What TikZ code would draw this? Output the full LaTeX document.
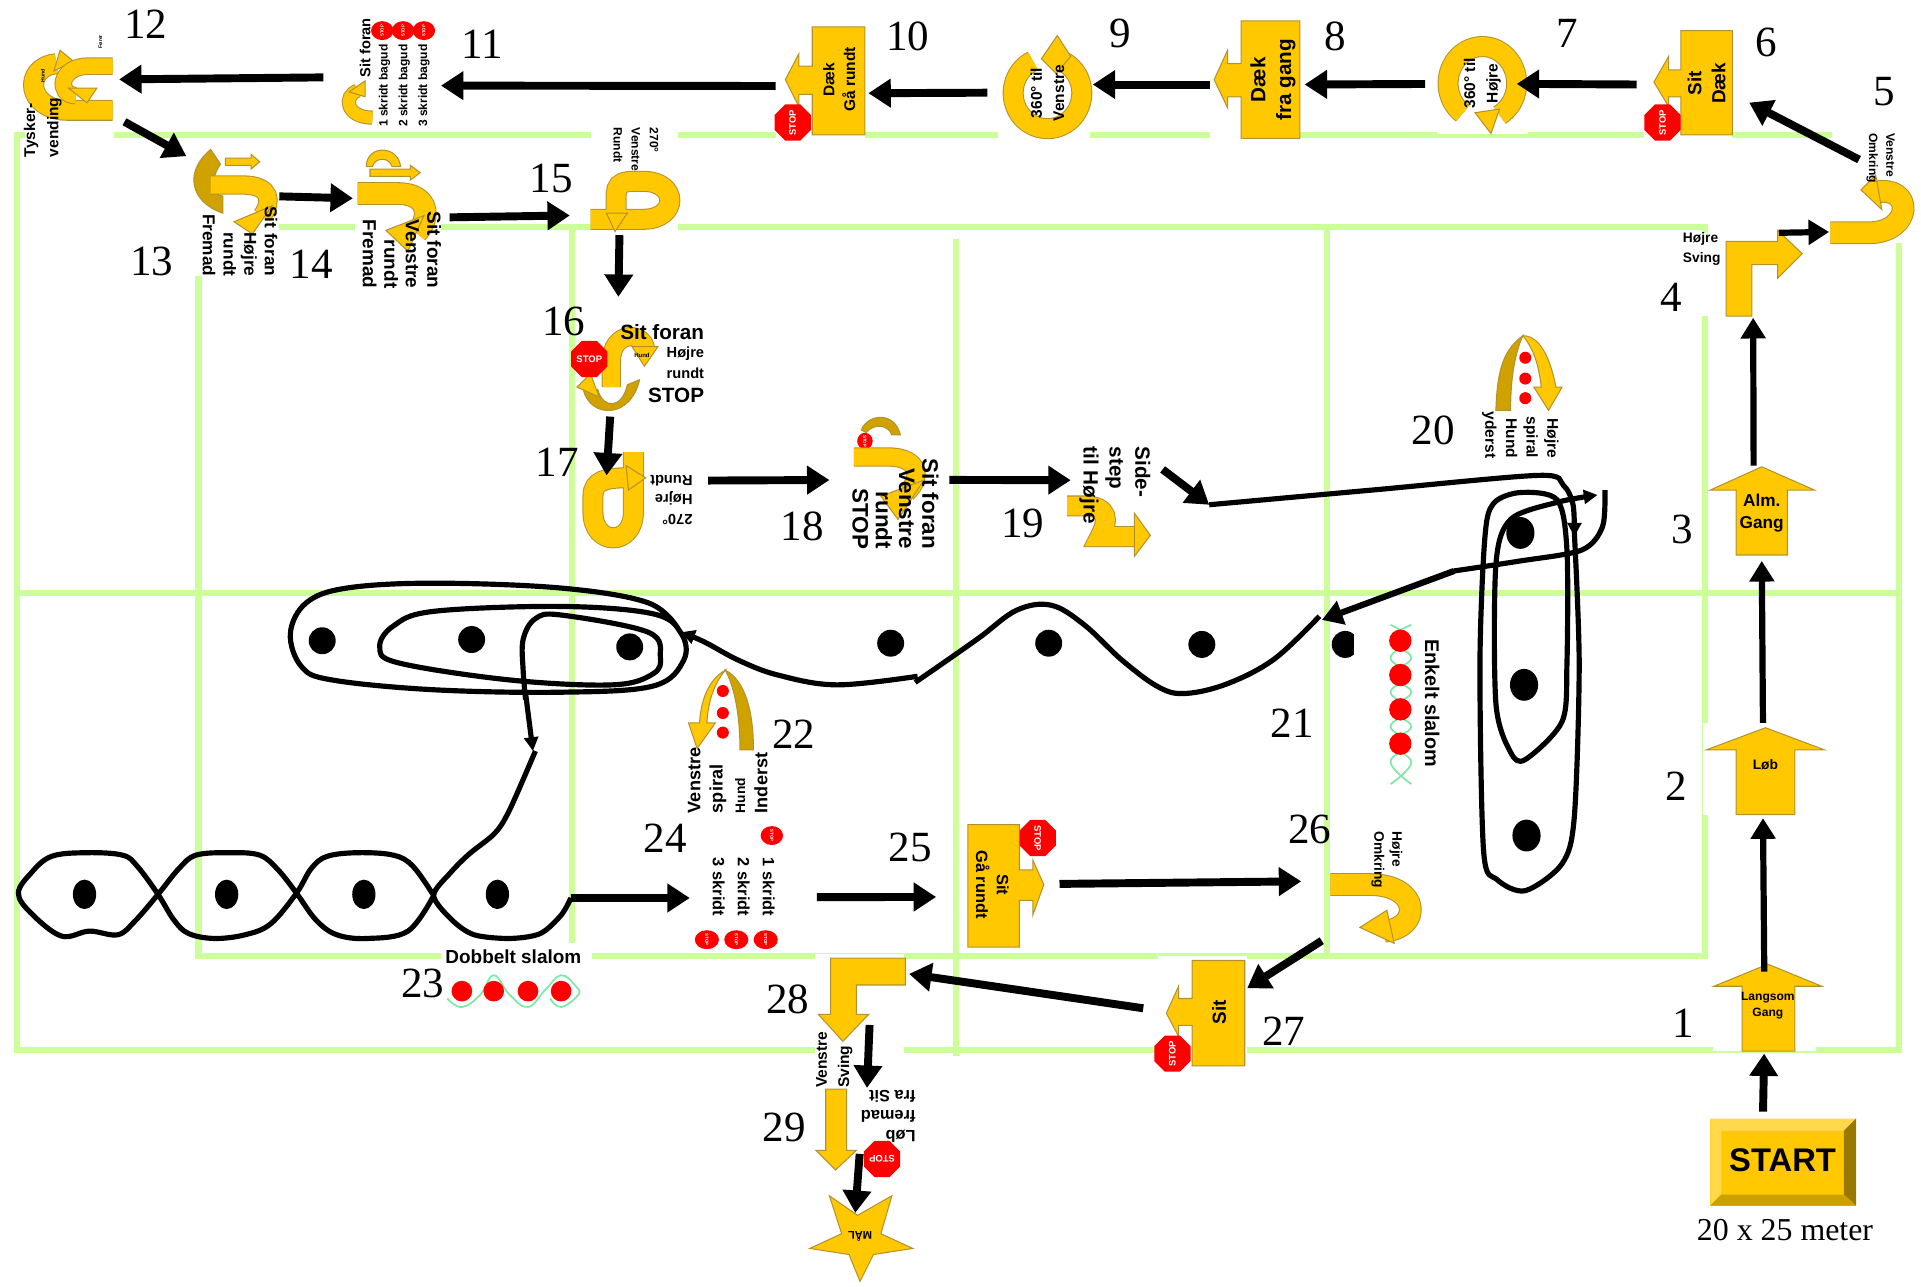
\documentclass[tikz,border=0pt]{standalone}
\usepackage{fontspec}
\setmainfont{Liberation Serif}
\setsansfont{Liberation Sans}
\usetikzlibrary{arrows.meta,shapes.geometric,fit}
\definecolor{guld}{HTML}{FFC800}
\definecolor{brun}{HTML}{B3922E}
\definecolor{morkguld}{HTML}{CFA200}
\definecolor{bane}{HTML}{CCFF99}
\definecolor{slalom}{HTML}{80E8A5}
\tikzset{
  gitter/.style={bane, line width=3.6pt},
  felt/.style={fill=white, inner sep=0pt, outer sep=0pt},
  gul/.style={fill=guld, draw=brun, line width=.6pt},
  mork/.style={fill=morkguld, draw=brun, line width=.6pt},
  baand/.style={draw=brun, double=guld, double distance=#1, line width=.6pt},
  tekst/.style 2 args={font=\sffamily\bfseries\fontsize{#1}{#2}\selectfont, inner sep=0pt},
  nr/.style={font=\fontsize{25}{25}\selectfont, inner sep=0pt},
  stopskilt/.style={regular polygon, regular polygon sides=8, fill=red, text=white, inner sep=0pt,
    minimum size=#1, font=\sffamily\bfseries\fontsize{5.5}{6}\selectfont},
  ministop/.style={ellipse, fill=red, text=white, inner sep=0pt, minimum width=11pt, minimum height=13pt,
    font=\sffamily\bfseries\fontsize{2.5}{3}\selectfont},
  pil/.style={-{Triangle[length=13pt,width=16pt]}, line width=4.6pt},
  pilt/.style={-{Triangle[length=12pt,width=14pt]}, line width=3.6pt},
  spor/.style={line width=3pt, line join=round},
  lille/.style={-{Triangle[length=8pt,width=8pt]}},
}
\begin{document}
\begin{tikzpicture}[x=0.025cm, y=-0.025cm]
    \useasboundingbox (0,0) rectangle (1568,1050.5);

    % Bane
    \draw[gitter] (14,110) rectangle (1550,857);
    \draw[gitter] (162,185) rectangle (1392,780);
    \draw[gitter] (14,484) -- (1550,484);
    \draw[gitter] (467,185) -- (467,780);
    \draw[gitter] (780,195) -- (780,862);
    \draw[gitter] (1083,185) -- (1083,780);

    % Kegler
    \fill (1098,526) ellipse (11 and 11);

    % Felter
    \node[felt, fit={(1398,785) (1482,858)}] (s1) {};
    \node[felt, fit={(1390,590) (1488,665)}] (s2) {};
    \node[felt, fit={(1395,380) (1481,455)}] (s3) {};
    \node[felt, fit={(1372,190) (1490,258)}] (s4) {};
    \node[felt, fit={(1495,105) (1568,198)}] (s5) {};
    \node[felt, fit={(1342,25) (1414,113)}] (s6) {};
    \node[felt, fit={(1173,28) (1247,109)}] (s7) {};
    \node[felt, fit={(988,25) (1060,113)}] (s8) {};
    \node[felt, fit={(815,25) (890,113)}] (s9) {};
    \node[felt, fit={(633,21) (706,113)}] (s10) {};
    \node[felt, fit={(280,18) (358,108)}] (s11) {};
    \node[felt, fit={(20,22) (93,130)}] (s12) {};
    \node[felt, fit={(157,120) (228,225)}] (s13) {};
    \node[felt, fit={(290,120) (360,235)}] (s14) {};
    \node[felt, fit={(482,95) (553,190)}] (s15) {};
    \node[felt, fit={(470,262) (576,335)}] (s16) {};
    \node[felt, fit={(475,365) (570,445)}] (s17) {};
    \node[felt, fit={(695,340) (770,450)}] (s18) {};
    \node[felt, fit={(870,360) (940,458)}] (s19) {};
    \node[felt, fit={(1205,270) (1275,375)}] (s20) {};
    \node[felt, fit={(1105,505) (1180,645)}] (s21) {};
    \node[felt, fit={(555,540) (632,665)}] (s22) {};
    \node[felt, fit={(360,770) (483,848)}] (s23) {};
    \node[felt, fit={(565,672) (640,778)}] (s24) {};
    \node[felt, fit={(788,668) (862,775)}] (s25) {};
    \node[felt, fit={(1086,675) (1160,775)}] (s26) {};
    \node[felt, fit={(945,780) (1018,872)}] (s27) {};
    \node[felt, fit={(665,779) (738,888)}] (s28) {};
    \node[felt, fit={(660,888) (750,965)}] (s29) {};
    \node[felt, fit={(655,975) (750,1050)}] (s30) {};
    \node[felt, fit={(1396,913) (1515,984)}] (start) {};

    % Start
    \fill[guld] (1396,913) rectangle (1515,984);
    \fill[guld!70!white] (1396,913) -- (1515,913) -- (1505,923) -- (1405,923) -- (1405,975) -- (1396,984) -- cycle;
    \fill[black!40!guld] (1515,913) -- (1515,984) -- (1505,975) -- (1505,923) -- cycle;
    \fill[black!20!guld] (1396,984) -- (1515,984) -- (1505,975) -- (1405,975) -- cycle;
    \node[tekst={19}{21}] (tstart) at (1455,947) {START};
    \node[font=\fontsize{18.5}{20}\selectfont, inner sep=0pt] (tmeter) at (1457,1004) {20 x 25 meter};

    % 1-5
    \draw[gul] (1443,787) -- (1487,805) -- (1465,805) -- (1465,858) -- (1422,858) -- (1422,805) -- (1399,805) -- cycle;
    \node[tekst={7}{9}, align=center] (t1) at (1443,821) {Langsom\\Gang};
    \draw[gul] (1441,594) -- (1489,612) -- (1465,612) -- (1465,665) -- (1417,665) -- (1417,612) -- (1393,612) -- cycle;
    \node[tekst={8}{9}] (t2) at (1441,624) {Løb};
    \draw[gul] (1438,381) -- (1481,400) -- (1459,400) -- (1459,453) -- (1417,453) -- (1417,400) -- (1396,400) -- cycle;
    \node[tekst={10}{12.5}, align=center] (t3) at (1438,419) {Alm.\\Gang};
    \draw[gul] (1409,258) -- (1409,197) -- (1451,197) -- (1451,188) -- (1471,207) -- (1451,227) -- (1451,216) -- (1430,216) -- (1430,258) -- cycle;
    \node[tekst={8}{11.5}, align=left] (t4) at (1389,203) {Højre\\Sving};
    \draw[baand=12pt] (1494,190) -- (1525,190) .. controls (1562,190) and (1562,150) .. (1530,157);
    \draw[gul] (1519,155) -- (1531,143) -- (1536,171) -- cycle;
    \node[tekst={7}{10}, rotate=-90, align=left] (t5) at (1535,129) {Venstre\\Omkring};

    % 6-10
    \draw[gul] (1372,25) -- (1414,25) -- (1414,110) -- (1372,110) -- (1372,79) -- (1362,79) -- (1362,87) -- (1350,67) -- (1362,46) -- (1362,57) -- (1372,57) -- cycle;
    \node[stopskilt=19pt, rotate=90] (st6) at (1357,100) {STOP};
    \node[tekst={11}{14}, rotate=90, align=center] (t6) at (1393,68) {Sit\\Dæk};
    \draw[baand=11pt] (1210,68) ++(-235:28 and 30) arc[start angle=-235, end angle=60, x radius=28, y radius=30];
    \draw[gul] (1204,92) -- (1217,109) -- (1224,89) -- cycle;
    \node[tekst={9}{13}, rotate=90, align=center] (t7) at (1210,68) {360° til\\Højre};
    \draw[gul] (1013,17) -- (1061,17) -- (1061,113) -- (1013,113) -- (1013,79) -- (1002,79) -- (1002,88) -- (991,65) -- (1002,41) -- (1002,52) -- (1013,52) -- cycle;
    \node[tekst={12}{15}, rotate=90, align=center] (t8) at (1039,65) {Dæk\\fra gang};
    \draw[baand=11pt] (855,76) ++(-115:28 and 29) arc[start angle=-115, end angle=-425, x radius=28, y radius=29];
    \draw[gul] (850,48) -- (863,29) -- (874,46) -- (862,60) -- cycle;
    \node[tekst={9}{13}, rotate=90, align=center] (t9) at (855,76) {360° til\\Venstre};
    \draw[gul] (663,22) -- (706,22) -- (706,110) -- (663,110) -- (663,77) -- (652,77) -- (652,87) -- (641,65) -- (652,44) -- (652,54) -- (663,54) -- cycle;
    \node[stopskilt=19pt, rotate=90] (st10) at (647,100) {STOP};
    \node[tekst={9}{12}, rotate=90, align=center] (t10) at (685,65) {Dæk\\Gå rundt};

    % 11-15
    \node[ministop, rotate=90] (m11a) at (312,25) {STOP};
    \node[ministop, rotate=90] (m11b) at (329,25) {STOP};
    \node[ministop, rotate=90] (m11c) at (346,25) {STOP};
    \node[tekst={8.5}{9}, rotate=90] (t11a) at (298,39) {Sit foran};
    \node[tekst={7}{11.5}, rotate=90, align=left] (t11) at (330,70) {1 skridt bagud\\2 skridt bagud\\3 skridt bagud};
    \draw[baand=7pt] (304,96) .. controls (282,96) and (280,78) .. (292,74);
    \draw[gul] (298,66) -- (285,75) -- (298,79) -- cycle;

    \draw[baand=11pt] (92,90) -- (55,90) .. controls (22,90) and (18,55) .. (46,52);
    \draw[gul] (49,41) -- (60,50) -- (44,58) -- cycle;
    \draw[baand=9pt] (92,54) -- (72,54) .. controls (48,54) and (46,78) .. (62,78);
    \draw[gul] (56,72) -- (71,84) -- (79,72) -- cycle;
    \node[tekst={9}{13.5}, rotate=90, align=left] (t12) at (35,104) {Tysker-\\vending};
    \node[tekst={3}{3}, rotate=90] (t12a) at (82,34) {Fører};
    \node[tekst={3}{3}, rotate=90] (t12b) at (35,62) {Hund};

    \draw[mork] (182,174) .. controls (155,165) and (150,140) .. (172,122) -- (180,134) .. controls (172,145) and (172,160) .. (182,160) -- cycle;
    \draw[gul] (184,129) -- (205,129) -- (205,126) -- (212,132) -- (205,138) -- (205,135) -- (184,135) -- cycle;
    \draw[baand=10pt] (172,151) -- (198,151) .. controls (222,151) and (222,165) .. (214,176);
    \draw[gul] (191,181) -- (222,168) -- (206,191) -- cycle;
    \node[tekst={10}{12}, rotate=-90, align=right] (t13) at (196,197) {Sit foran\\Højre\\rundt\\Fremad};

    \draw[gul] (299,136) .. controls (299,118) and (325,118) .. (327,136) -- (320,136) .. controls (318,128) and (306,128) .. (304,136) -- cycle;
    \draw[gul] (302,138) -- (335,138) -- (335,135) -- (343,141) -- (335,147) -- (335,144) -- (302,144) -- cycle;
    \draw[baand=12pt] (292,158) -- (325,158) .. controls (350,158) and (352,178) .. (340,190);
    \draw[gul] (315,188) -- (346,176) -- (333,205) -- cycle;
    \node[tekst={11}{12.5}, rotate=-90, align=right] (t14) at (328,204) {Sit foran\\Venstre\\rundt\\Fremad};

    \draw[baand=11pt] (482,179) -- (525,179) .. controls (554,179) and (554,148) .. (525,148) -- (518,148) .. controls (500,148) and (503,155) .. (503,175);
    \draw[gul] (495,174) -- (512,174) -- (502,189) -- cycle;
    \node[tekst={7}{10.5}, rotate=-90, align=left] (t15) at (519,122) {270°\\Venstre\\Rundt};

    % 16-19
    \draw[mork] (476,318) .. controls (482,342) and (515,342) .. (522,310) -- (512,314) .. controls (508,334) and (492,334) .. (488,318) -- cycle;
    \draw[gul] (471,316) -- (482,305) -- (489,324) -- cycle;
    \draw[baand=10pt] (499,316) -- (499,295) .. controls (499,270) and (525,270) .. (527,285);
    \draw[gul] (516,283) -- (537,283) -- (526,299) -- cycle;
    \node[stopskilt=20pt] (st16) at (481,293) {STOP};
    \node[tekst={9}{9}, align=right, anchor=east] (t16a) at (575,271) {\fontsize{12}{12}\selectfont Sit foran};
    \node[tekst={8.5}{9}, anchor=east] (t16b) at (575,289) {Højre};
    \node[tekst={8.5}{9}, anchor=east] (t16c) at (575,305) {rundt};
    \node[tekst={12}{12}, anchor=east] (t16d) at (575,323) {STOP};
    \node[tekst={3.5}{4}] (t16e) at (524,290) {Hund};

    \draw[baand=11pt] (517,369) -- (517,418) .. controls (517,446) and (484,446) .. (484,418) -- (484,405) .. controls (484,392) and (495,390) .. (512,390);
    \draw[gul] (511,380) -- (527,390) -- (513,400) -- cycle;
    \node[tekst={8.5}{11.5}, rotate=180, align=left] (t17) at (548,408) {270°\\Højre\\Rundt};

    \draw[mork] (703,351) .. controls (708,338) and (730,335) .. (735,355) -- (728,355) .. controls (725,347) and (714,345) .. (707,353) -- cycle;
    \node[ministop, minimum width=9pt, minimum height=9pt, rotate=-90] (m18) at (706,360) {STOP};
    \draw[baand=10pt] (697,373) -- (725,373) .. controls (752,373) and (752,392) .. (740,402);
    \draw[gul] (719,405) -- (754,392) -- (733,424) -- cycle;
    \node[tekst={13}{13.5}, rotate=-90, align=right] (t18) at (731,411) {Sit foran\\Venstre\\rundt\\STOP};

    \draw[baand=11pt] (871,413) -- (885,413) .. controls (905,413) and (905,425) .. (898,438) -- (928,438);
    \draw[gul] (926,419) -- (939,437) -- (926,454) -- cycle;
    \node[tekst={12}{15}, rotate=-90, align=left] (t19) at (910,396) {Side-\\step\\til Højre};

    % 20-22
    \draw[mork] (1221,335) .. controls (1222,300) and (1228,285) .. (1243,274) .. controls (1236,290) and (1233,310) .. (1233,335) -- cycle;
    \draw[gul] (1243,274) .. controls (1258,274) and (1266,295) .. (1270,316) -- (1275,316) -- (1264,335) -- (1252,316) -- (1258,316) .. controls (1256,298) and (1252,285) .. (1243,274) -- cycle;
    \node[circle, fill=red, inner sep=0pt, minimum size=7pt] (r20a) at (1245,292) {};
    \node[circle, fill=red, inner sep=0pt, minimum size=7pt] (r20b) at (1245,309) {};
    \node[circle, fill=red, inner sep=0pt, minimum size=7pt] (r20c) at (1245,325) {};
    \node[tekst={9}{12}, rotate=-90, align=right] (t20) at (1241,355) {Højre\\spiral\\Hund\\yderst};

    \draw[slalom, line width=1pt] plot[smooth, tension=.7] coordinates {(1135,510) (1150,522) (1135,537) (1150,551) (1135,565) (1150,579) (1135,593) (1150,607) (1135,622) (1152,640)};
    \draw[slalom, line width=1pt] plot[smooth, tension=.7] coordinates {(1152,510) (1135,522) (1152,537) (1135,551) (1152,565) (1135,579) (1152,593) (1135,607) (1152,622) (1135,640)};
    \node[circle, fill=red, inner sep=0pt, minimum size=13pt] (r21a) at (1143,523) {};
    \node[circle, fill=red, inner sep=0pt, minimum size=13pt] (r21b) at (1143,551) {};
    \node[circle, fill=red, inner sep=0pt, minimum size=13pt] (r21c) at (1143,579) {};
    \node[circle, fill=red, inner sep=0pt, minimum size=13pt] (r21d) at (1143,607) {};
    \node[tekst={11.5}{12}, rotate=-90] (t21) at (1169,574) {Enkelt slalom};

    \draw[gul] (592,547) .. controls (578,555) and (572,572) .. (571,590) -- (562,590) -- (569,611) -- (584,590) -- (577,590) .. controls (578,572) and (583,558) .. (592,547) -- cycle;
    \draw[mork] (592,547) .. controls (608,555) and (615,580) .. (615,612) -- (604,612) .. controls (604,585) and (600,562) .. (592,547) -- cycle;
    \node[circle, fill=red, inner sep=0pt, minimum size=7pt] (r22a) at (590,564) {};
    \node[circle, fill=red, inner sep=0pt, minimum size=7pt] (r22b) at (590,582) {};
    \node[circle, fill=red, inner sep=0pt, minimum size=7pt] (r22c) at (590,598) {};
    \node[tekst={10.5}{13}, rotate=90, align=left] (t22) at (594,637) {Venstre\\spiral\\{\fontsize{8}{8}\selectfont Hund}\\Inderst};

    % 23-25
    \node[tekst={11}{12}] (t23) at (419,781) {Dobbelt slalom};
    \draw[slalom, line width=1pt] plot[smooth, tension=.7] coordinates {(365,815) (377,822) (392,812) (403,796) (416,812) (431,822) (445,808) (458,796) (470,805) (472,812) (458,822) (449,815)};
    \node[circle, fill=red, inner sep=0pt, minimum size=12pt] (r23a) at (377,809) {};
    \node[circle, fill=red, inner sep=0pt, minimum size=12pt] (r23b) at (403,809) {};
    \node[circle, fill=red, inner sep=0pt, minimum size=12pt] (r23c) at (431,809) {};
    \node[circle, fill=red, inner sep=0pt, minimum size=12pt] (r23d) at (458,809) {};

    \node[ministop, rotate=-90] (m24a) at (630,682) {STOP};
    \node[ministop, minimum height=14pt, rotate=-90] (m24b) at (577,767) {STOP};
    \node[ministop, minimum height=14pt, rotate=-90] (m24c) at (601,767) {STOP};
    \node[ministop, minimum height=14pt, rotate=-90] (m24d) at (625,767) {STOP};
    \node[tekst={9.5}{14.5}, rotate=-90, align=left] (t24) at (607,724) {1 skridt\\2 skridt\\3 skridt};

    \draw[gul] (790,673) -- (832,673) -- (832,710) -- (843,710) -- (843,702) -- (852,722) -- (843,747) -- (843,735) -- (832,735) -- (832,773) -- (790,773) -- cycle;
    \node[stopskilt=19pt, rotate=-90] (st25) at (847,684) {STOP};
    \node[tekst={9.5}{12}, rotate=-90, align=center] (t25) at (810,722) {Sit\\Gå rundt};

    % 26-30
    \draw[baand=12pt] (1086,722) -- (1118,722) .. controls (1160,722) and (1160,758) .. (1130,760);
    \draw[gul] (1110,757) -- (1132,743) -- (1138,770) -- cycle;
    \node[tekst={8}{10.5}, rotate=-90, align=left] (t26) at (1132,702) {Højre\\Omkring};

    \draw[gul] (973,784) -- (1016,784) -- (1016,870) -- (973,870) -- (973,837) -- (962,837) -- (962,846) -- (952,827) -- (962,805) -- (962,815) -- (973,815) -- cycle;
    \node[stopskilt=19pt, rotate=90] (st27) at (957,860) {STOP};
    \node[tekst={11}{12}, rotate=90] (t27) at (995,826) {Sit};

    \draw[gul] (678,782) -- (739,782) -- (739,804) -- (699,804) -- (699,828) -- (709,828) -- (688,850) -- (668,828) -- (678,828) -- cycle;
    \node[tekst={9}{13}, rotate=90, align=left] (t28) at (681,865) {Venstre\\Sving};

    \draw[gul] (674,889) -- (691,889) -- (691,939) -- (699,939) -- (682,955) -- (666,939) -- (674,939) -- cycle;
    \node[tekst={9.5}{11.5}, rotate=180, align=left] (t29) at (725,911) {Løb\\fremad\\fra Sit};
    \node[stopskilt=22pt, rotate=180] (st29) at (720,946) {STOP};

    \draw[gul] (677,976) -- (700,992) -- (728,976) -- (719,1007) -- (745,1019) -- (713,1024) -- (702,1046) -- (693,1024) -- (661,1019) -- (687,1007) -- cycle;
    \node[tekst={6.5}{7}, rotate=180] (t30) at (702,1009) {MÅL};

    % Kegler i spiraler og slalom
    \fill (1241,435) ellipse (11.5 and 13);
    \fill (1244,559) ellipse (11.5 and 13);
    \fill (1246,682) ellipse (11.5 and 13);
    \fill (727,525) ellipse (11 and 11);
    \fill (856,525) ellipse (11 and 11);
    \fill (981,526) ellipse (11 and 11);
    \fill (263,523) ellipse (11 and 11);
    \fill (385,522) ellipse (11 and 11);
    \fill (514,528) ellipse (11 and 11);
    \fill (69,730) ellipse (9.5 and 12);
    \fill (185,730) ellipse (9.5 and 12);
    \fill (297,730) ellipse (9.5 and 12);
    \fill (406,730) ellipse (9.5 and 12);

    % Spor
    \coordinate (v1) at (987,412);
    \coordinate (v2) at (1187,466);
    \coordinate (v3) at (1079,506);
    \coordinate (v4) at (466,733);
    \coordinate (v5) at (1452,190);
    \draw[spor, lille] plot[smooth, tension=.5] coordinates {(v1) (1120,400) (1256,388) (1276,396) (1284,412) (1285,438)};
    \draw[spor, lille] plot[smooth, tension=.5] coordinates {(1285,434) (1289,542) (1285,667) (1275,705) (1245,727) (1222,718) (1211,695) (1208,542) (1212,439) (1219,411) (1241,402) (1271,408) (1279,449) (1279,542) (1275,589) (1245,620) (1233,614) (1221,574) (1221,461) (1233,424) (1271,410) (1304,404)};
    \draw[spor] plot[smooth, tension=.5] coordinates {(1310,400) (1308,430) (1291,449) (1240,458) (v2)};
    \draw[pilt] (v2) -- (v3);
    \draw[spor] plot[smooth, tension=.6] coordinates {(1077,503) (1040,538) (1002,558) (968,566) (946,561) (916,539) (885,510) (858,494) (830,498) (800,520) (773,539) (747,557)};
    \draw[spor, lille] plot[smooth, tension=.6] coordinates {(749,552) (683,559) (635,551) (603,539) (575,524) (556,516)};
    \draw[spor] plot[smooth, tension=.6] coordinates {(554,514) (529,492) (458,480) (354,476) (283,480) (250,492) (237,517) (246,544) (271,555) (354,563) (458,565) (533,560) (558,539) (556,517) (533,501) (458,495) (354,499) (321,511) (310,528) (325,541) (416,555) (500,559) (533,550) (539,536) (529,516) (458,502) (437,505) (427,522) (427,547) (429,571)};
    \draw[spor, lille] (429,566) -- (435,613);
    \draw[spor] plot[smooth, tension=.5] coordinates {(437,613) (416,661) (404,680) (383,697) (368,712) (354,731) (369,751) (387,763) (416,766) (441,762) (458,747) (v4)};
    \draw[spor] plot[smooth, tension=.6] coordinates {(354,731) (337,707) (321,698) (292,696) (267,699) (254,709) (242,729) (221,754) (200,763) (175,766) (154,762) (142,751) (129,730) (112,707) (100,698) (71,696) (42,699) (25,713) (15,729) (25,745) (50,764) (73,760) (96,763) (110,752) (129,730) (146,709) (160,698) (187,696) (212,698) (227,710) (242,729) (258,751) (275,763) (300,766) (333,760) (354,731)};

    % Pile
    \draw[pil, shorten <=4pt, shorten >=1.4pt] (start.115) -- (s1.south);
    \draw[pilt, shorten <=-5.7pt, shorten >=2pt] (s1.north) -- (s2.south);
    \draw[pilt, shorten >=2pt] (s2.north) -- (s3.south);
    \draw[pilt, shorten >=1pt] (s3.100) -- (s4.south);
    \draw[pilt, shorten >=1.4pt] (v5) -- (s5.226);
    \draw[pil, shorten <=-18pt, shorten >=11pt] (s5.138) -- (s6.348);
    \draw[pil, shorten <=4.3pt, shorten >=-6.4pt] (s6.west) -- (s7.east);
    \draw[pil, shorten <=7pt, shorten >=3.5pt] (s7.west) -- (s8.east);
    \draw[pil, shorten >=1.4pt] (s8.west) -- (s9.east);
    \draw[pil, shorten <=6.4pt, shorten >=2pt] (s9.190) -- (s10.346);
    \draw[pil, shorten >=1.4pt] (s10.185) -- (s11.350);
    \draw[pil, shorten <=11.4pt, shorten >=3pt] (s11.west) -- (s12.17);
    \draw[pil, shorten <=7pt, shorten >=4pt] (s12.-27) -- (s13.130);
    \draw[pil, shorten >=1.4pt] (s13.19) -- (s14.156);
    \draw[pil, shorten <=5pt, shorten >=12pt] (s14.east) -- (s15.223);
    \draw[pil, shorten <=1.4pt, shorten >=14pt] (s15.256) -- (s16.117);
    \draw[pil, shorten <=3.6pt, shorten >=-16.4pt] (s16.236) -- (s17.123);
    \draw[pil, shorten <=5.7pt, shorten >=12.8pt] (s17.15) -- (s18.175);
    \draw[pil, shorten <=3.5pt, shorten >=-2.8pt] (s18.5) -- (s19.154);
    \draw[pil, shorten <=8pt] (s19.43) -- (v1);
    \draw[pil, shorten >=1.4pt] (v4) -- (s24.192);
    \draw[pil, shorten <=19pt, shorten >=17pt] (s24.349) -- (s25.196);
    \draw[pil, shorten <=2pt, shorten >=17pt] (s25.east) -- (s26.171);
    \draw[pil, shorten <=6pt] (s26.226) -- (s27.28);
    \draw[pil, shorten <=8.5pt, shorten >=2.9pt] (s27.178) -- (s28.47);
    \draw[pil, shorten <=41pt] (s28.79) -- (s29.86);
    \draw[pil, shorten <=38.4pt, shorten >=-10.7pt] (s29.89) -- (s30.95);

    % Numre
    \node[nr] (n1) at (1374,835) {1};
    \node[nr] (n2) at (1368,642) {2};
    \node[nr] (n3) at (1373,432) {3};
    \node[nr] (n4) at (1364,243) {4};
    \node[nr] (n5) at (1538,75) {5};
    \node[nr] (n6) at (1442,35) {6};
    \node[nr] (n7) at (1279,27) {7};
    \node[nr] (n8) at (1090,30) {8};
    \node[nr] (n9) at (914,27) {9};
    \node[nr] (n10) at (741,30) {10};
    \node[nr] (n11) at (394,36) {11};
    \node[nr] (n12) at (119,20) {12};
    \node[nr] (n13) at (124,213) {13};
    \node[nr] (n14) at (254,216) {14};
    \node[nr] (n15) at (450,146) {15};
    \node[nr] (n16) at (460,262) {16};
    \node[nr] (n17) at (455,377) {17};
    \node[nr] (n18) at (655,430) {18};
    \node[nr] (n19) at (835,427) {19};
    \node[nr] (n20) at (1170,351) {20};
    \node[nr] (n21) at (1055,590) {21};
    \node[nr] (n22) at (648,599) {22};
    \node[nr] (n23) at (345,803) {23};
    \node[nr] (n24) at (543,684) {24};
    \node[nr] (n25) at (743,692) {25};
    \node[nr] (n26) at (1069,677) {26};
    \node[nr] (n27) at (1048,842) {27};
    \node[nr] (n28) at (643,816) {28};
    \node[nr] (n29) at (640,920) {29};
\end{tikzpicture}
\end{document}
